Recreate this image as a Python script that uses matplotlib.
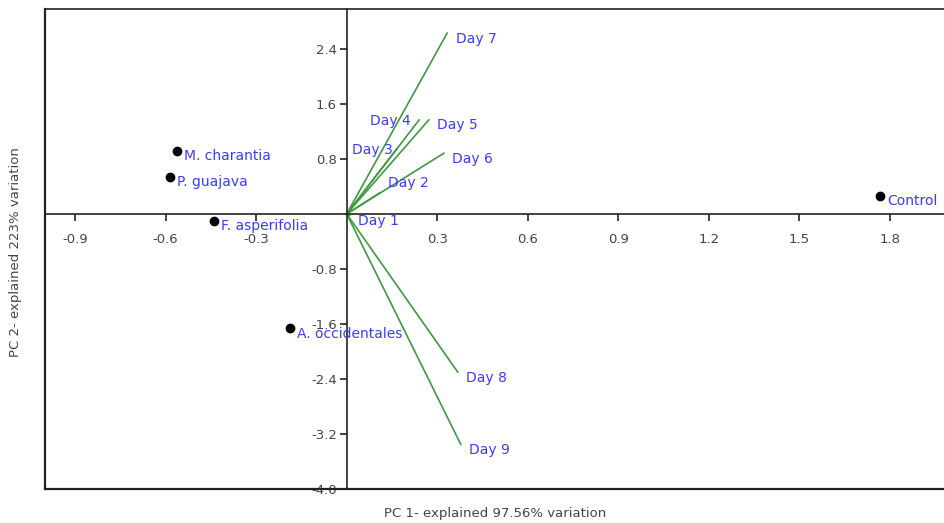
import matplotlib
matplotlib.use('Agg')
import matplotlib.pyplot as plt

# sample scores
samples = ['M. charantia', 'P. guajava', 'F. asperifolia', 'A. occidentales', 'Control']
pc1 = [-0.563, -0.587, -0.441, -0.189, 1.767]
pc2 = [0.916, 0.538, -0.10, -1.658, 0.262]

# loadings (vector ends)
days = ['Day 1', 'Day 2', 'Day 3', 'Day 4', 'Day 5', 'Day 6', 'Day 7', 'Day 8', 'Day 9']
load1 = [0.01, 0.109, 0.166, 0.24, 0.272, 0.322, 0.333, 0.368, 0.378]
load2 = [-0.02, 0.305, 0.945, 1.367, 1.367, 0.883, 2.63, -2.30, -3.35]

xticks = [-0.9, -0.6, -0.3, 0.3, 0.6, 0.9, 1.2, 1.5, 1.8]
yticks = [2.4, 1.6, 0.8, -0.8, -1.6, -2.4, -3.2, -4.0]

# label placement (offset in points, alignment)
day_offsets = {'Day 1': (6, -4, 'left'), 'Day 2': (6, 7, 'left'), 'Day 3': (-3, -1, 'right'),
               'Day 4': (-6, -1, 'right')}

blue = '#3b3bff'
green = '#3f9a3f'
grey = '#444444'

fig = plt.figure(figsize=(9.45, 5.23), dpi=100)
ax = fig.add_axes([45 / 945, 34 / 523, 900 / 945, 480 / 523])
ax.set_xlim(-1.0, 1.983)
ax.set_ylim(-4.0, 2.98)

ax.spines['left'].set_position(('data', 0))
ax.spines['bottom'].set_position(('data', 0))
ax.spines['right'].set_visible(False)
for s in ['left', 'bottom', 'top']:
    ax.spines[s].set_color('#222222')
    ax.spines[s].set_linewidth(1.2)
# outer frame
ax.plot([0, 0], [0, 1], transform=ax.transAxes, color='#222222', lw=1.6, clip_on=False)
ax.plot([0, 1], [0, 0], transform=ax.transAxes, color='#222222', lw=1.6, clip_on=False)

ax.set_xticks(xticks)
ax.set_xticklabels([('%.1f' % v) for v in xticks])
ax.set_yticks(yticks)
ax.set_yticklabels([('%.1f' % v) for v in yticks])
ax.tick_params(axis='x', direction='out', length=5, width=1.2, pad=9, labelsize=9.5, colors='#222222',
               labelcolor=grey)
ax.tick_params(axis='y', direction='out', length=5, width=1.2, pad=2, labelsize=9.5, colors='#222222',
               labelcolor=grey)

for d, a, b in zip(days, load1, load2):
    ax.plot([0, a], [0, b], color=green, lw=1.2)
    dx, dy, ha = day_offsets.get(d, (6, -4, 'left'))
    ax.annotate(d, (a, b), xytext=(dx, dy), textcoords='offset points', ha=ha, va='center',
                color=blue, fontsize=10)

ax.plot(pc1, pc2, 'o', color='black', markersize=6)
for s, a, b in zip(samples, pc1, pc2):
    ax.annotate(s, (a, b), xytext=(5, -4), textcoords='offset points', ha='left', va='center',
                color=blue, fontsize=10)

fig.text(495 / 945, 9 / 523, 'PC 1- explained 97.56% variation', ha='center', va='center',
         fontsize=9.5, color=grey)
fig.text(16 / 945, 1 - 252 / 523, 'PC 2- explained 223% variation', ha='center', va='center',
         rotation=90, fontsize=9.5, color=grey)

fig.savefig('out.png', dpi=100)
